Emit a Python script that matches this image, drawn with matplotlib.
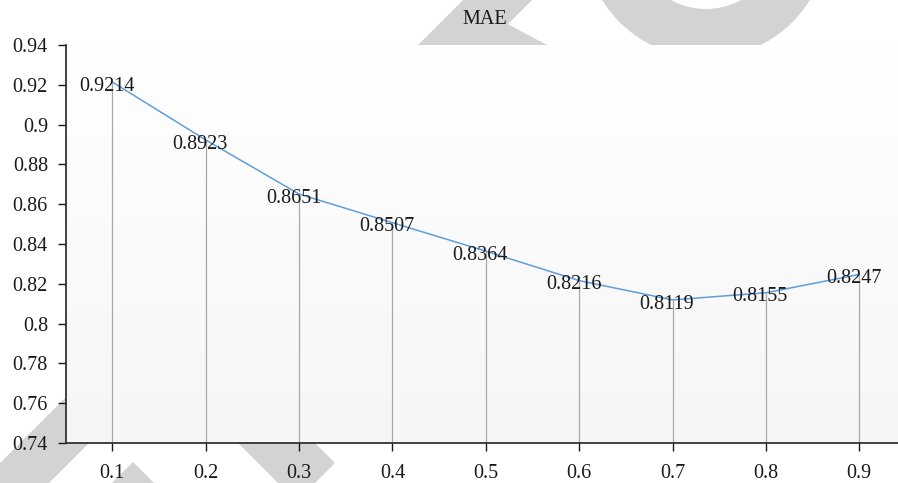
import numpy as np
import matplotlib
matplotlib.use("Agg")
import matplotlib.pyplot as plt
from matplotlib.colors import LinearSegmentedColormap
from matplotlib.patches import Polygon, Wedge

# data
categories = ["0.1", "0.2", "0.3", "0.4", "0.5", "0.6", "0.7", "0.8", "0.9"]
mae = [0.9214, 0.8923, 0.8651, 0.8507, 0.8364, 0.8216, 0.8119, 0.8155, 0.8247]
y_ticks = [0.74, 0.76, 0.78, 0.80, 0.82, 0.84, 0.86, 0.88, 0.90, 0.92, 0.94]

W, H = 898, 483
plt.rcParams['font.family'] = ['Liberation Serif', 'DejaVu Serif']

fig = plt.figure(figsize=(W / 100, H / 100), dpi=100)


def px(points):
    # pixel coords (top-left origin) -> inches for dpi_scale_trans
    return [(x / 100, (H - y) / 100) for x, y in points]


# light grey watermark shapes behind the plot
wm = "#d3d3d3"
shapes = [
    [(468, 3), (547, 45), (427, 45)],
    [(463, 0), (532, 0), (49, 483), (0, 483), (0, 463)],
    [(133, 462), (154, 483), (112, 483)],
    [(238, 443), (315, 443), (335, 463), (315, 483), (278, 483)],
]
for s in shapes:
    fig.add_artist(Polygon(px(s), closed=True, facecolor=wm, edgecolor="none",
                           transform=fig.dpi_scale_trans, zorder=-5))
fig.add_artist(Wedge((706 / 100, (H + 64) / 100), 1.22, 0, 360, width=0.49,
                     facecolor=wm, edgecolor="none",
                     transform=fig.dpi_scale_trans, zorder=-5))

ax = fig.add_axes([66 / W, 40 / H, (W - 66) / W, 398 / H])

x = np.arange(len(categories))
ax.set_xlim(-0.496, 8.415)
ax.set_ylim(0.74, 0.94)

# gradient plot background
cmap = LinearSegmentedColormap.from_list("bg", ["#f6f6f6", "#ffffff"])
ax.imshow(np.linspace(0, 1, 256).reshape(-1, 1), cmap=cmap, origin="lower",
          extent=[0, 1, 0, 1], transform=ax.transAxes, aspect="auto", zorder=0)

ax.vlines(x, 0.74, mae, color="#a8a8a8", lw=0.9, zorder=2)
ax.plot(x, mae, color="#5f9edb", lw=1.1, zorder=3)

for xi, v in zip(x, mae):
    ax.annotate(f"{v:.4f}", (xi, v), xytext=(-4, -6.2), textcoords="offset points",
                ha="center", va="baseline", fontsize=14.5, color="#1a1a1a", zorder=4)

ax.set_xticks(x)
ax.set_xticklabels(categories)
ax.set_yticks(y_ticks)
ax.set_yticklabels([f"{t:g}" for t in y_ticks])
ax.tick_params(axis="both", labelsize=14.5, colors="#1a1a1a", length=6, width=1)
ax.tick_params(axis="y", pad=7)
ax.tick_params(axis="x", pad=9)

for side in ["top", "right"]:
    ax.spines[side].set_visible(False)
for side in ["left", "bottom"]:
    ax.spines[side].set_color("#222222")
    ax.spines[side].set_linewidth(1.2)

fig.text(485 / W, (H - 24) / H, "MAE", ha="center", va="baseline",
         fontsize=14.5, color="#1a1a1a")

fig.savefig("out.png", dpi=100)
